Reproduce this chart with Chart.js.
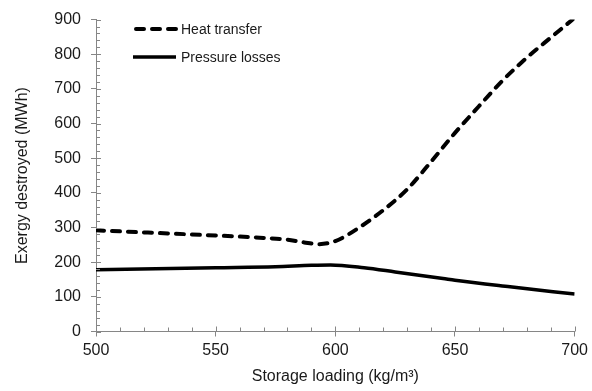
<!DOCTYPE html>
<html>
<head>
<meta charset="utf-8">
<script src="https://cdn.jsdelivr.net/npm/chart.js@4/dist/chart.umd.min.js"></script>
<style>
  html, body { margin: 0; padding: 0; background: #fff; }
  #wrap { width: 592px; height: 391px; }
</style>
</head>
<body>
<div id="wrap"><canvas id="c" width="592" height="391"></canvas></div>
<script>
// Storage loading (kg/m3) and exergy destroyed (MWh)
const heatLoading = [500, 510, 520, 530, 540, 550, 560, 570, 580, 587, 593, 600, 610, 620, 630, 640, 650, 660, 670, 680, 690, 700];
const heatTransfer = [292, 289, 286, 283, 280, 277, 274, 270, 265, 257, 252, 261, 300, 350, 410, 490, 573, 650, 725, 790, 848, 905];

const pressLoading = [500, 525, 550, 575, 590, 598, 612, 625, 645, 650, 673, 700];
const pressureLosses = [178, 181, 184, 187, 191, 192, 184, 172, 153, 148, 129, 108];

const xTicks = [500, 550, 600, 650, 700];
const yTicks = [0, 100, 200, 300, 400, 500, 600, 700, 800, 900];

const seriesNames = ['Heat transfer', 'Pressure losses'];

const AXIS = '#868686';
const TEXT = '#1a1a1a';
const FONT = '"Liberation Sans", Arial, sans-serif';

// Minor tick marks and the inner half of major ticks (Excel "cross" style)
const axisTicks = {
  id: 'axisTicks',
  afterDatasetsDraw(chart) {
    const { ctx, chartArea: a, scales: { x, y } } = chart;
    ctx.save();
    ctx.strokeStyle = AXIS;
    ctx.lineWidth = 1;
    ctx.beginPath();
    for (let v = 500; v <= 700; v += 10) {
      const px = Math.round(x.getPixelForValue(v)) + 0.5;
      const len = xTicks.includes(v) ? 5 : 4;
      ctx.moveTo(px, a.bottom);
      ctx.lineTo(px, a.bottom - len);
    }
    for (let v = 0; v <= 900; v += 20) {
      const py = Math.round(y.getPixelForValue(v)) + 0.5;
      const len = yTicks.includes(v) ? 5 : 4;
      ctx.moveTo(a.left, py);
      ctx.lineTo(a.left + len, py);
    }
    ctx.stroke();
    ctx.restore();
  }
};

// Legend drawn inside the plot area, top left
const insideLegend = {
  id: 'insideLegend',
  afterDraw(chart) {
    const { ctx } = chart;
    const rows = [29, 57];
    ctx.save();
    chart.data.datasets.forEach((ds, i) => {
      const yy = rows[i];
      const dashed = ds.borderDash && ds.borderDash.length;
      ctx.strokeStyle = ds.borderColor;
      ctx.lineWidth = ds.borderWidth;
      ctx.lineCap = dashed ? 'round' : 'butt';
      ctx.setLineDash(ds.borderDash || []);
      ctx.beginPath();
      ctx.moveTo(dashed ? 136 : 133, yy);
      ctx.lineTo(176, yy);
      ctx.stroke();
      ctx.setLineDash([]);
      ctx.fillStyle = TEXT;
      ctx.font = '14px ' + FONT;
      ctx.textBaseline = 'middle';
      ctx.fillText(ds.label, 181, yy + 1);
    });
    ctx.restore();
  }
};

new Chart(document.getElementById('c'), {
  type: 'line',
  data: {
    datasets: [
      {
        label: seriesNames[0],
        data: heatLoading.map((v, i) => ({ x: v, y: heatTransfer[i] })),
        borderColor: '#000',
        borderWidth: 4,
        borderDash: [8, 8],
        borderCapStyle: 'round',
        cubicInterpolationMode: 'monotone',
        pointRadius: 0,
        fill: false
      },
      {
        label: seriesNames[1],
        data: pressLoading.map((v, i) => ({ x: v, y: pressureLosses[i] })),
        borderColor: '#000',
        borderWidth: 3.5,
        cubicInterpolationMode: 'monotone',
        pointRadius: 0,
        fill: false
      }
    ]
  },
  options: {
    responsive: false,
    animation: false,
    devicePixelRatio: 1,
    layout: { padding: { top: 15, right: 15, left: 0, bottom: 0 } },
    plugins: { legend: { display: false }, tooltip: { enabled: false } },
    scales: {
      x: {
        type: 'linear',
        min: 500, max: 700,
        afterBuildTicks: s => { s.ticks = xTicks.map(v => ({ value: v })); },
        afterFit: s => { s.height = 59.5; },
        grid: { display: true, drawOnChartArea: false, drawTicks: true, tickLength: 5, color: AXIS, tickColor: AXIS },
        border: { display: true, color: AXIS, width: 1 },
        ticks: { color: TEXT, font: { family: FONT, size: 16 }, padding: 4, maxRotation: 0 },
        title: {
          display: true,
          text: 'Storage loading (kg/m³)',
          color: TEXT,
          font: { family: FONT, size: 16 },
          padding: { top: 0, bottom: 5 }
        }
      },
      y: {
        min: 0, max: 900,
        afterBuildTicks: s => { s.ticks = yTicks.map(v => ({ value: v })); },
        afterFit: s => { s.width = 96; },
        grid: { display: true, drawOnChartArea: false, drawTicks: true, tickLength: 5, color: AXIS, tickColor: AXIS },
        border: { display: true, color: AXIS, width: 1 },
        ticks: { color: TEXT, font: { family: FONT, size: 16 }, padding: 10 },
        title: {
          display: true,
          text: 'Exergy destroyed (MWh)',
          color: TEXT,
          font: { family: FONT, size: 16 },
          padding: { top: 13, bottom: 0 }
        }
      }
    }
  },
  plugins: [axisTicks, insideLegend]
});
</script>
</body>
</html>
